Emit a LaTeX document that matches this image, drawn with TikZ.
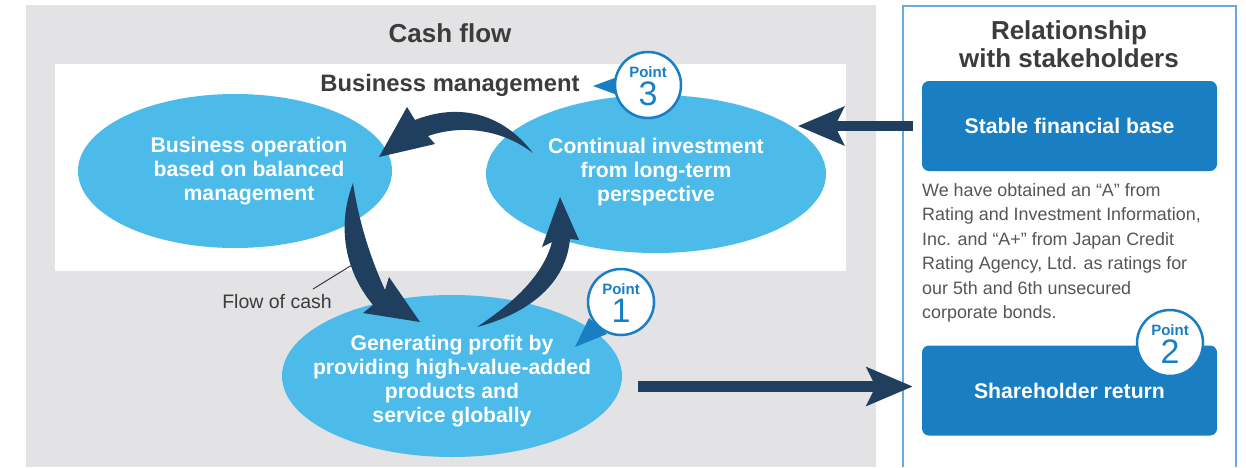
\documentclass[tikz,border=0pt]{standalone}
\usepackage{fontspec}
\setmainfont{Liberation Sans}
\usetikzlibrary{shapes.geometric,arrows.meta}
\definecolor{panelgray}{HTML}{E3E3E5}
\definecolor{lightblue}{HTML}{4CBBEA}
\definecolor{boxblue}{HTML}{1A7EC3}
\definecolor{navy}{HTML}{203F5E}
\definecolor{panelborder}{HTML}{6AAAE0}
\definecolor{titlegray}{HTML}{3C3C3C}
\definecolor{textgray}{HTML}{555555}
\begin{document}
\begin{tikzpicture}[x=1pt,y=-1pt,
  ell/.style={ellipse, fill=lightblue, inner sep=0pt},
  elltxt/.style={inner sep=0pt, text=white, align=center,
    font=\bfseries\fontsize{21.2}{24}\selectfont},
  bluebox/.style={rectangle, rounded corners=7pt, fill=boxblue, text=white,
    minimum width=295pt, minimum height=90pt, inner sep=0pt,
    font=\bfseries\fontsize{21.2}{24}\selectfont},
  titletxt/.style={text=titlegray, align=center, inner sep=0pt,
    font=\bfseries\fontsize{26}{28}\selectfont},
  pointc/.style={circle, draw=boxblue, line width=2.5pt, fill=white,
    minimum size=66pt, inner sep=0pt},
  pointword/.style={text=boxblue, inner sep=0pt, font=\bfseries\fontsize{15}{18}\selectfont},
  pointnum/.style={text=boxblue, inner sep=0pt, font=\fontsize{34}{36}\selectfont},
  bigarrow/.style={draw=navy, line width=10.5pt,
    -{Stealth[length=46pt,width=38pt,inset=9pt]}},
  tapered/.style={fill=navy}
]
\useasboundingbox (0,0) rectangle (1246,467);
% panels
\fill[panelgray] (26,5) rectangle (876,467);
\fill[white] (55,64) rectangle (846,271);
\draw[panelborder, line width=1.5pt] (903,467) -- (903,6) -- (1236,6) -- (1236,467);

% titles
\node[titletxt] (cf) at (450,33) {Cash flow};
\node[titletxt] (rel) at (1069,44) {Relationship\\with stakeholders};
\node[titletxt, font=\bfseries\fontsize{23.8}{26}\selectfont] (bm) at (450,85) {Business management};

% ellipses
\node[ell, minimum width=314pt, minimum height=154pt] (bizL) at (235,171) {};
\node[elltxt] (bizLt) at ([xshift=14pt]bizL.center) {Business operation\\based on balanced\\management};
\node[ell, minimum width=340pt, minimum height=158pt] (bizR) at (656,174) {};
\node[elltxt] (bizRt) at ([yshift=2pt]bizR.center) {Continual investment\\from long-term\\perspective};
\node[ell, minimum width=340pt, minimum height=162pt] (bizB) at (452,376) {};
\node[elltxt] (bizBt) at ([yshift=-5pt]bizB.center)
  {Generating profit by\\providing high-value-added\\products and\\service globally};

% blue boxes
\node[bluebox] (stable) at (1069.5,126) {Stable financial base};
\node[bluebox] (share) at (1069.5,390.5) {Shareholder return};

% paragraph
\node[anchor=north west, inner sep=0pt, align=left, text=textgray,
  font=\fontsize{17.9}{24.5}\selectfont] (para) at (922,183)
  {We have obtained an “A” from\\Rating and Investment Information,\\Inc. and “A+” from Japan Credit\\Rating Agency, Ltd. as ratings for\\our 5th and 6th unsecured\\corporate bonds.};

% straight arrows
\draw[bigarrow] ([xshift=-9pt]stable.west) -- ([xshift=-124pt]stable.west);
\draw[bigarrow] ([xshift=-284pt,yshift=4pt]share.west) -- ([xshift=-9pt,yshift=4pt]share.west);

% curved tapered arrows (flow of cash)
\fill[tapered] (533,153) .. controls (500,110) and (455,104) .. (415,120)
  -- (407,107) -- (379,157) -- (435,144) -- (428,136)
  .. controls (460,125) and (500,128) .. (533,153) -- cycle;
\fill[tapered] (353,183) .. controls (337,225) and (344,270) .. (373,305)
  -- (363,313) -- (420,322) -- (389,277) -- (385,290)
  .. controls (370,257) and (359,222) .. (353,183) -- cycle;
\fill[tapered] (477,327) .. controls (530,313) and (566,283) .. (570,239)
  -- (579,240) -- (560,197) -- (542,247) -- (552,242)
  .. controls (543,276) and (513,303) .. (477,327) -- cycle;

% flow of cash label
\node[inner sep=0pt, text=titlegray, font=\fontsize{19.5}{22}\selectfont] (flow) at (277,302) {Flow of cash};
\coordinate (flowA) at (313,289);
\coordinate (flowB) at (352,265);
\draw[titlegray, line width=1pt] (flowA) -- (flowB);

% point bubbles
\fill[boxblue] (593,86) -- (620,76) -- (620,96) -- cycle;
\node[pointc] (p3) at (648,85) {};
\node[pointword] at ([yshift=13pt]p3.center) {Point};
\node[pointnum] at ([yshift=-9pt]p3.center) {3};

\fill[boxblue] (575,347) -- (589,318) -- (607,334) -- cycle;
\node[pointc] (p1) at (621,302) {};
\node[pointword] at ([yshift=13pt]p1.center) {Point};
\node[pointnum] at ([yshift=-9pt]p1.center) {1};

\node[pointc] (p2) at (1170,343) {};
\node[pointword] at ([yshift=13pt]p2.center) {Point};
\node[pointnum] at ([yshift=-9pt]p2.center) {2};
\end{tikzpicture}
\end{document}
